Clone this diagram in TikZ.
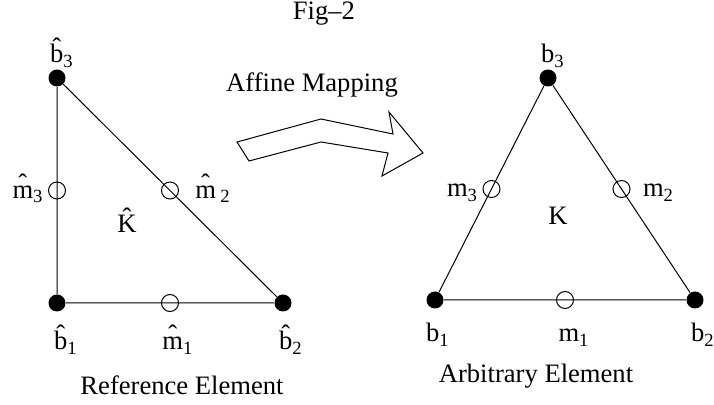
\documentclass[tikz,border=0pt]{standalone}
\usepackage{fontspec}
\setmainfont{Liberation Serif}
\usetikzlibrary{positioning,calc}
\newcommand\hatted[1]{\ooalign{#1\cr\hidewidth\raisebox{0.24em}{\char"02C6}\hidewidth\cr}}

\begin{document}
\begin{tikzpicture}[x=0.5pt,y=-0.5pt,
    vertex/.style={circle,fill=black,inner sep=0pt,minimum size=8.5pt},
    midpt/.style={circle,draw,line width=0.5pt,inner sep=0pt,minimum size=8.5pt},
    lbl/.style={anchor=base,inner sep=0pt,font=\fontsize{13.3}{16}\selectfont},
    edge/.style={line width=0.5pt}
  ]
    \useasboundingbox (0,0) rectangle (714,405);

    \node[lbl] (title) at (324,20) {Fig--2};

    % reference element
    \node[vertex] (hb1) at (57,303) {};
    \node[vertex] (hb2) at (283,303) {};
    \node[vertex] (hb3) at (57,78) {};
    \draw[edge] (hb1) -- (hb2) -- (hb3) -- (hb1);
    \node[midpt] (hm1) at ($(hb1)!0.5!(hb2)$) {};
    \node[midpt] (hm2) at ($(hb2)!0.5!(hb3)$) {};
    \node[midpt] (hm3) at ($(hb3)!0.5!(hb1)$) {};

    \node[lbl] at ($(hb3)+(5,-15)$) {\hatted{b}\textsubscript{3}};
    \node[lbl] at ($(hb1)+(9,47)$) {\hatted{b}\textsubscript{1}};
    \node[lbl] at ($(hb2)+(8,47)$) {\hatted{b}\textsubscript{2}};
    \node[lbl] at ($(hm1)+(8,47)$) {\hatted{m}\textsubscript{1}};
    \node[lbl] at ($(hm2)+(43,8)$) {\hatted{m}\,\textsubscript{2}};
    \node[lbl] at ($(hm3)+(-29,8)$) {\hatted{m}\textsubscript{3}};
    \node[lbl] (hK) at (127,233) {\hatted{K}};
    \node[lbl] (refname) at (182,395) {Reference Element};

    % affine mapping arrow
    \node[lbl] (mapname) at (312,92) {Affine Mapping};
    \draw[edge] (237,142) -- (321,119) -- (393,134) -- (389,112) -- (423,153)
      -- (382,176) -- (388,153) -- (321,142) -- (249,161) -- cycle;

    % arbitrary element
    \node[vertex] (b1) at (435,300) {};
    \node[vertex] (b2) at (695,300) {};
    \node[vertex] (b3) at (548,78) {};
    \draw[edge] (b1) -- (b2) -- (b3) -- (b1);
    \node[midpt] (m1) at ($(b1)!0.5!(b2)$) {};
    \node[midpt] (m2) at ($(b2)!0.5!(b3)$) {};
    \node[midpt] (m3) at ($(b3)!0.5!(b1)$) {};

    \node[lbl] at ($(b3)+(5,-15)$) {b\textsubscript{3}};
    \node[lbl] at ($(b1)+(3,42)$) {b\textsubscript{1}};
    \node[lbl] at ($(b2)+(8,42)$) {b\textsubscript{2}};
    \node[lbl] at ($(m1)+(9,42)$) {m\textsubscript{1}};
    \node[lbl] at ($(m2)+(37,8)$) {m\textsubscript{2}};
    \node[lbl] at ($(m3)+(-29,8)$) {m\textsubscript{3}};
    \node[lbl] (K) at (558,225) {K};
    \node[lbl] (arbname) at (536,383) {Arbitrary Element};
  \end{tikzpicture}
\end{document}
